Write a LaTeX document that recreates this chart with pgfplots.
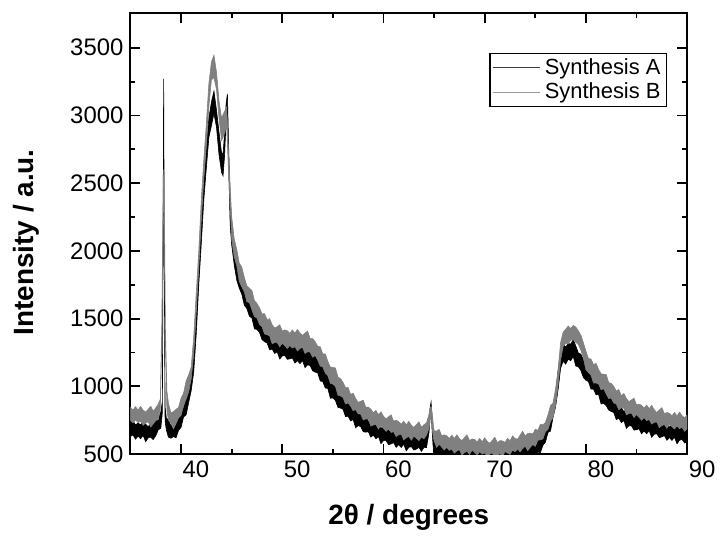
\documentclass[border=0pt]{standalone}
\usepackage{fontspec}
\setmainfont{Liberation Sans}
\usepackage{pgfplots}
\pgfplotsset{compat=1.18}
\usepackage{pgfplotstable}
\usepgfplotslibrary{fillbetween}

% Synthesis A (black): x, lower and upper edge of the noise band
\pgfplotstableread{
x lo hi
35.00 630 730
35.25 642 747
35.50 610 715
35.75 633 730
36.00 614 716
36.25 639 744
36.50 592 720
36.75 620 702
37.00 626 726
37.25 607 717
37.50 635 755
37.75 680 755
38.00 690 812
38.15 805 890
38.22 1940 2060
38.28 3180 3270
38.34 1940 2060
38.42 740 850
38.55 678 765
38.75 625 755
39.00 617 707
39.25 630 722
39.50 620 730
39.75 675 790
40.00 698 808
40.25 775 842
40.50 790 928
40.75 880 995
41.00 968 1095
41.25 1105 1225
41.50 1385 1512
41.75 1750 1850
42.00 2055 2245
42.25 2380 2523
42.50 2613 2757
42.75 2840 2983
43.00 2925 3100
43.25 3015 3180
43.50 2913 3040
43.75 2710 2877
44.00 2580 2725
44.15 2555 2715
44.30 2705 2873
44.45 2960 3087
44.58 3033 3160
44.70 2640 2770
44.85 2195 2390
45.00 2045 2180
45.25 1898 2012
45.50 1785 1910
45.75 1725 1870
46.00 1680 1788
46.25 1600 1722
46.50 1575 1698
46.75 1518 1645
47.00 1505 1625
47.25 1425 1560
47.50 1420 1542
47.75 1398 1500
48.00 1345 1500
48.25 1330 1453
48.50 1320 1412
48.75 1270 1418
49.00 1275 1385
49.25 1243 1390
49.50 1255 1345
49.75 1202 1354
50.00 1225 1335
50.25 1228 1360
50.50 1200 1333
50.75 1203 1310
51.00 1210 1328
51.25 1172 1307
51.50 1190 1320
51.75 1168 1285
52.00 1190 1297
52.25 1138 1278
52.50 1160 1300
52.75 1153 1263
53.00 1115 1232
53.25 1105 1238
53.50 1100 1205
53.75 1040 1195
54.00 1035 1135
54.25 988 1122
54.50 985 1080
54.75 912 1082
55.00 915 1033
55.25 896 990
55.50 845 988
55.75 840 940
56.00 830 935
56.25 777 882
56.50 780 877
56.75 745 847
57.00 755 860
57.25 695 823
57.50 710 792
57.75 703 803
58.00 665 775
58.25 662 782
58.50 665 740
58.75 625 747
59.00 640 725
59.25 613 745
59.50 630 713
59.75 577 689
60.00 600 708
60.25 600 687
60.50 570 700
60.75 575 665
61.00 585 677
61.25 550 660
61.50 570 685
61.75 549 659
62.00 573 640
62.25 524 662
62.50 550 645
62.75 555 662
63.00 530 630
63.25 537 644
63.50 550 630
63.75 520 660
64.00 550 643
64.25 548 642
64.50 660 745
64.60 765 840
64.70 840 885
64.80 680 765
64.90 560 640
65.00 505 600
65.25 508 618
65.50 468 586
65.75 487 564
66.00 464 584
66.25 486 566
66.50 436 581
66.75 463 548
67.00 468 562
67.25 442 547
67.50 450 575
67.75 462 550
68.00 430 532
68.25 452 555
68.50 433 540
68.75 457 557
69.00 410 525
69.25 438 540
69.50 444 526
69.75 419 554
70.00 427 530
70.25 441 513
70.50 410 538
70.75 434 524
71.00 416 543
71.25 443 513
71.50 399 531
71.75 430 520
72.00 440 552
72.25 420 533
72.50 433 520
72.75 452 550
73.00 427 542
73.25 457 567
73.50 445 542
73.75 477 564
74.00 437 557
74.25 472 592
74.50 485 575
74.75 468 565
75.00 485 598
75.25 515 600
75.50 510 645
75.75 565 645
76.00 588 702
76.25 660 735
76.50 670 820
76.75 770 868
77.00 848 942
77.25 975 1118
77.50 1135 1255
77.75 1185 1310
78.00 1165 1290
78.25 1200 1317
78.50 1190 1312
78.75 1220 1345
79.00 1150 1298
79.25 1145 1247
79.50 1118 1238
79.75 1065 1195
80.00 1045 1185
80.25 1035 1130
80.50 980 1122
80.75 980 1085
81.00 938 1090
81.25 940 1043
81.50 870 1002
81.75 875 1003
82.00 858 965
82.25 825 955
82.50 815 905
82.75 807 899
83.00 755 865
83.25 765 880
83.50 733 843
83.75 747 814
84.00 690 828
84.25 710 805
84.50 708 815
84.75 677 777
85.00 680 787
85.25 687 767
85.50 650 790
85.75 671 764
86.00 650 744
86.25 673 766
86.50 623 748
86.75 647 762
87.00 650 727
87.25 622 739
87.50 627 722
87.75 637 747
88.00 602 720
88.25 622 699
88.50 601 721
88.75 625 705
89.00 576 721
89.25 603 688
89.50 608 702
89.75 582 687
90.00 590 715
}\synA

% Synthesis B (grey)
\pgfplotstableread{
x lo hi
35.00 750 845
35.25 730 825
35.50 753 850
35.75 733 825
36.00 742 852
36.25 712 825
36.50 730 810
36.75 739 831
37.00 700 853
37.25 723 816
37.50 748 842
37.75 755 870
37.95 838 905
38.10 1345 1472
38.20 2115 2265
38.28 2500 2600
38.36 2123 2270
38.45 1350 1442
38.60 822 965
38.75 752 878
39.00 728 803
39.25 687 814
39.50 725 830
39.75 768 845
40.00 785 912
40.25 858 950
40.50 905 1040
40.75 960 1085
41.00 1055 1142
41.25 1238 1365
41.50 1550 1688
41.75 1872 1998
42.00 2227 2377
42.25 2538 2675
42.50 2780 2940
42.75 3070 3237
43.00 3263 3395
43.25 3280 3445
43.50 3193 3320
43.75 2980 3107
44.00 2815 2980
44.25 2860 3023
44.50 2923 3063
44.75 2485 2627
45.00 2087 2255
45.25 1957 2090
45.50 1893 2012
45.75 1775 1910
46.00 1735 1880
46.25 1698 1805
46.50 1625 1742
46.75 1618 1725
47.00 1565 1708
47.25 1515 1633
47.50 1505 1612
47.75 1458 1580
48.00 1440 1535
48.25 1387 1537
48.50 1382 1490
48.75 1373 1500
49.00 1315 1455
49.25 1323 1430
49.50 1323 1440
49.75 1292 1455
50.00 1318 1408
50.25 1300 1417
50.50 1280 1410
50.75 1302 1392
51.00 1283 1417
51.25 1293 1393
51.50 1262 1420
51.75 1280 1393
52.00 1288 1377
52.25 1243 1393
52.50 1255 1408
52.75 1253 1353
53.00 1215 1352
53.25 1228 1330
53.50 1195 1295
53.75 1150 1292
54.00 1145 1240
54.25 1098 1240
54.50 1080 1185
54.75 1022 1142
55.00 1017 1140
55.25 1001 1136
55.50 935 1068
55.75 930 1057
56.00 918 1030
56.25 870 990
56.50 878 992
56.75 855 940
57.00 820 950
57.25 830 910
57.50 798 882
57.75 795 890
58.00 752 898
58.25 760 846
58.50 758 847
58.75 707 832
59.00 715 805
59.25 718 822
59.50 685 790
59.75 710 812
60.00 690 780
60.25 668 760
60.50 685 775
60.75 660 790
61.00 665 743
61.25 630 750
61.50 642 740
61.75 648 720
62.00 605 742
62.25 621 716
62.50 630 742
62.75 603 713
63.00 633 697
63.25 617 717
63.50 600 738
63.75 625 698
64.00 613 717
64.25 640 730
64.50 692 795
64.60 750 840
64.70 790 850
64.80 700 810
64.90 635 735
65.00 598 672
65.25 550 670
65.50 573 683
65.75 552 635
66.00 530 642
66.25 550 635
66.50 528 615
66.75 537 639
67.00 507 615
67.25 524 642
67.50 533 615
67.75 493 600
68.00 511 621
68.25 522 642
68.50 497 600
68.75 528 612
69.00 513 608
69.25 495 590
69.50 518 615
69.75 499 591
70.00 510 620
70.25 481 594
70.50 500 580
70.75 510 602
71.00 471 624
71.25 491 584
71.50 505 599
71.75 483 598
72.00 518 585
72.25 509 616
72.50 498 598
72.75 529 634
73.00 518 615
73.25 538 610
73.50 517 640
73.75 542 668
74.00 558 633
74.25 525 652
74.50 550 655
74.75 571 648
75.00 557 684
75.25 603 675
75.50 605 720
75.75 612 717
76.00 665 732
76.25 683 790
76.50 740 858
76.75 772 878
77.00 862 982
77.25 1013 1120
77.50 1195 1325
77.75 1295 1400
78.00 1318 1422
78.25 1315 1445
78.50 1340 1428
78.75 1345 1450
79.00 1325 1438
79.25 1310 1410
79.50 1268 1378
79.75 1210 1322
80.00 1122 1260
80.25 1102 1205
80.50 1083 1202
80.75 1025 1160
81.00 1025 1170
81.25 1018 1125
81.50 975 1092
81.75 983 1090
82.00 945 1088
82.25 910 1028
82.50 915 1022
82.75 878 1000
83.00 870 965
83.25 827 977
83.50 842 930
83.75 840 947
84.00 790 910
84.25 800 887
84.50 803 900
84.75 770 913
85.00 793 863
85.25 772 869
85.50 750 860
85.75 770 840
86.00 748 862
86.25 755 835
86.50 722 860
86.75 734 827
87.00 738 807
87.25 695 825
87.50 710 843
87.75 718 798
88.00 690 807
88.25 719 801
88.50 703 783
88.75 685 807
89.00 707 782
89.25 688 810
89.50 698 783
89.75 668 768
90.00 687 790
}\synB

\definecolor{synBgray}{RGB}{128,128,128}

\begin{document}
\begin{tikzpicture}
\begin{axis}[
  scale only axis,
  width=279.5pt,
  height=221.5pt,
  xmin=35, xmax=90,
  ymin=500, ymax=3757,
  xtick={40,50,60,70,80,90},
  ytick={500,1000,1500,2000,2500,3000,3500},
  minor x tick num=1,
  minor y tick num=1,
  tick align=inside,
  major tick length=5pt,
  minor tick length=2.5pt,
  axis line style={black, line width=1pt},
  tick style={black, line width=0.9pt},
  /pgf/number format/assume math mode=true,
  /pgf/number format/1000 sep={},
  tick label style={font=\fontsize{12}{14}\selectfont},
  xticklabel style={xshift=7.5pt},
  xlabel={\textbf{2θ / degrees}},
  ylabel={\textbf{Intensity / a.u.}},
  label style={font=\fontsize{14}{16}\selectfont},
  xlabel style={at={(axis description cs:0.5,-0.16)}, anchor=base},
  ylabel style={at={(axis description cs:-0.188,0.48)}, anchor=center},
  legend style={at={(0.964,0.910)}, anchor=north east, draw=black,
    line width=0.6pt, font=\fontsize{11}{12}\selectfont,
    inner xsep=1pt, inner ysep=0.5pt, row sep=-1pt,
    cells={anchor=west}},
  legend image code/.code={\draw[#1] (0pt,0pt) -- (24pt,0pt);},
]
% band edges (not drawn), then the band itself, A first and B on top
\addplot[draw=none, name path=Ahi, forget plot] table[x=x, y=hi] {\synA};
\addplot[draw=none, name path=Alo, forget plot] table[x=x, y=lo] {\synA};
\addplot[draw=none, name path=Bhi, forget plot] table[x=x, y=hi] {\synB};
\addplot[draw=none, name path=Blo, forget plot] table[x=x, y=lo] {\synB};

\addplot[fill=black, draw=black, line width=0.3pt, forget plot] fill between[of=Ahi and Alo];
\addplot[fill=synBgray, draw=synBgray, line width=0.3pt, forget plot] fill between[of=Bhi and Blo];

\addlegendimage{black!75, line width=0.5pt}
\addlegendentry{Synthesis A}
\addlegendimage{black!40, line width=0.5pt}
\addlegendentry{Synthesis B}
\end{axis}
\path (current axis.south west) ++(-65.5pt,-41pt);
\path (current axis.north east) ++(16pt,6.5pt);
\end{tikzpicture}
\end{document}
